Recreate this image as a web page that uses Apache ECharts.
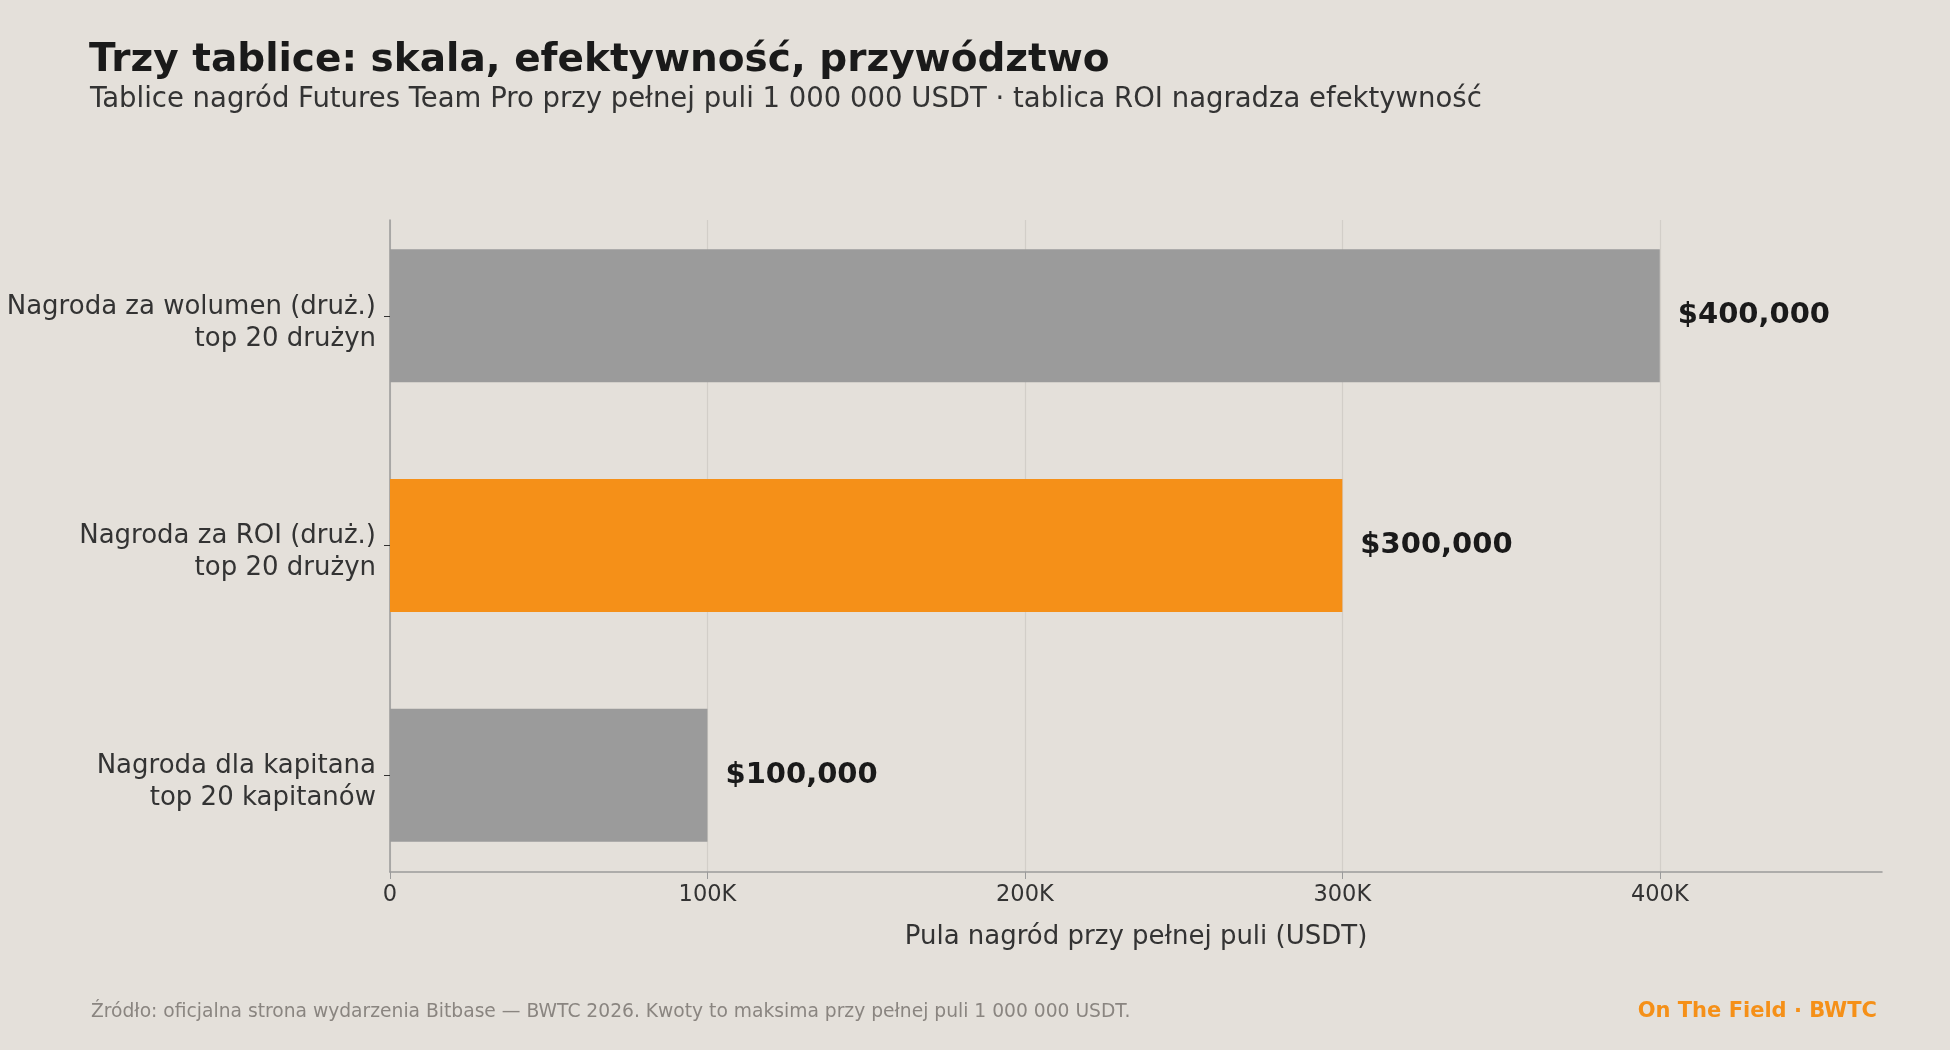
<!DOCTYPE html>
<html>
<head>
<meta charset="utf-8">
<script src="https://cdn.jsdelivr.net/npm/echarts@6/dist/echarts.min.js"></script>
<style>
  html, body { margin: 0; padding: 0; background: #e4e0da; }
  #chart { width: 1950px; height: 1050px; }
</style>
</head>
<body>
<div id="chart"></div>
<script>
// dane z wykresu
var categories = [
  'Nagroda za wolumen (druż.)\ntop 20 drużyn',
  'Nagroda za ROI (druż.)\ntop 20 drużyn',
  'Nagroda dla kapitana\ntop 20 kapitanów'
];
var values = [400000, 300000, 100000];
var barColors = ['#9b9b9b', '#f59018', '#9b9b9b'];
var tickLabels = { 0: '0', 100000: '100K', 200000: '200K', 300000: '300K', 400000: '400K' };
var xMax = 470000;

var FONT = '"DejaVu Sans", "Open Sans", sans-serif';

var chart = echarts.init(document.getElementById('chart'));
var option = {
  backgroundColor: '#e4e0da',
  textStyle: { fontFamily: FONT },
  title: [
    {
      text: 'Trzy tablice: skala, efektywność, przywództwo',
      left: 84, top: 36,
      textStyle: { fontSize: 39, fontWeight: 'bold', color: '#1a1a1a', fontFamily: FONT }
    },
    {
      text: 'Tablice nagród Futures Team Pro przy pełnej puli 1 000 000 USDT · tablica ROI nagradza efektywność',
      left: 85, top: 81,
      textStyle: { fontSize: 27.5, fontWeight: 'normal', color: '#333', fontFamily: FONT }
    },
    {
      text: 'Źródło: oficjalna strona wydarzenia Bitbase — BWTC 2026. Kwoty to maksima przy pełnej puli 1 000 000 USDT.',
      left: 86, top: 998,
      textStyle: { fontSize: 18.7, fontWeight: 'normal', color: '#8a8580', fontFamily: FONT }
    },
    {
      text: 'On The Field · BWTC',
      right: 68, top: 996,
      textStyle: { fontSize: 21, fontWeight: 'bold', color: '#f59018', fontFamily: FONT }
    }
  ],
  grid: [
    // siatka z osiami (ramka wykresu)
    { left: 390, right: 68, top: 220, bottom: 178 },
    // siatka ze słupkami (pasma kategorii)
    { left: 390, right: 68, top: 201, bottom: 160 }
  ],
  xAxis: [
    {
      gridIndex: 0,
      type: 'value',
      min: 0,
      max: xMax,
      interval: 100000,
      name: 'Pula nagród przy pełnej puli (USDT)',
      nameLocation: 'middle',
      nameGap: 52,
      nameTextStyle: { fontSize: 26, color: '#333' },
      axisLine: { show: true, lineStyle: { color: '#9a9a9a', width: 1.5 } },
      axisTick: { show: true, length: 7, lineStyle: { color: '#9a9a9a' } },
      axisLabel: {
        fontSize: 22.5, color: '#333', margin: 12,
        showMaxLabel: false,
        formatter: function (v) { return tickLabels[v] !== undefined ? tickLabels[v] : ''; }
      },
      splitLine: { show: true, showMaxLine: false, lineStyle: { color: '#d2cec8', width: 1.2 } }
    },
    {
      gridIndex: 1,
      type: 'value',
      min: 0,
      max: xMax,
      show: false
    }
  ],
  yAxis: [
    {
      gridIndex: 0,
      type: 'value',
      min: 0,
      max: 1,
      axisLine: { show: true, lineStyle: { color: '#9a9a9a', width: 1.5 } },
      axisTick: { show: false },
      axisLabel: { show: false },
      splitLine: { show: false }
    },
    {
      gridIndex: 1,
      type: 'category',
      data: categories,
      inverse: true,
      axisLine: { show: false },
      axisTick: { show: true, alignWithLabel: true, length: 6, lineStyle: { color: '#333' } },
      axisLabel: {
        margin: 14, align: 'right',
        formatter: function (v) {
          return '{s| }\n' + v.split('\n').map(function (l) { return '{a|' + l + '}'; }).join('\n');
        },
        rich: {
          s: { height: 14, lineHeight: 14, fontSize: 10 },
          a: { fontSize: 26, color: '#333', lineHeight: 32, height: 32, align: 'right' }
        }
      }
    }
  ],
  series: [
    {
      type: 'bar',
      xAxisIndex: 1,
      yAxisIndex: 1,
      data: values.map(function (v, i) { return { value: v, itemStyle: { color: barColors[i] } }; }),
      barWidth: 133,
      label: {
        show: true,
        position: 'right',
        distance: 18,
        fontSize: 29,
        fontWeight: 'bold',
        color: '#1a1a1a',
        formatter: function (p) { return '$' + p.value.toLocaleString('en-US'); }
      }
    }
  ]
};
chart.setOption(option);
</script>
</body>
</html>
